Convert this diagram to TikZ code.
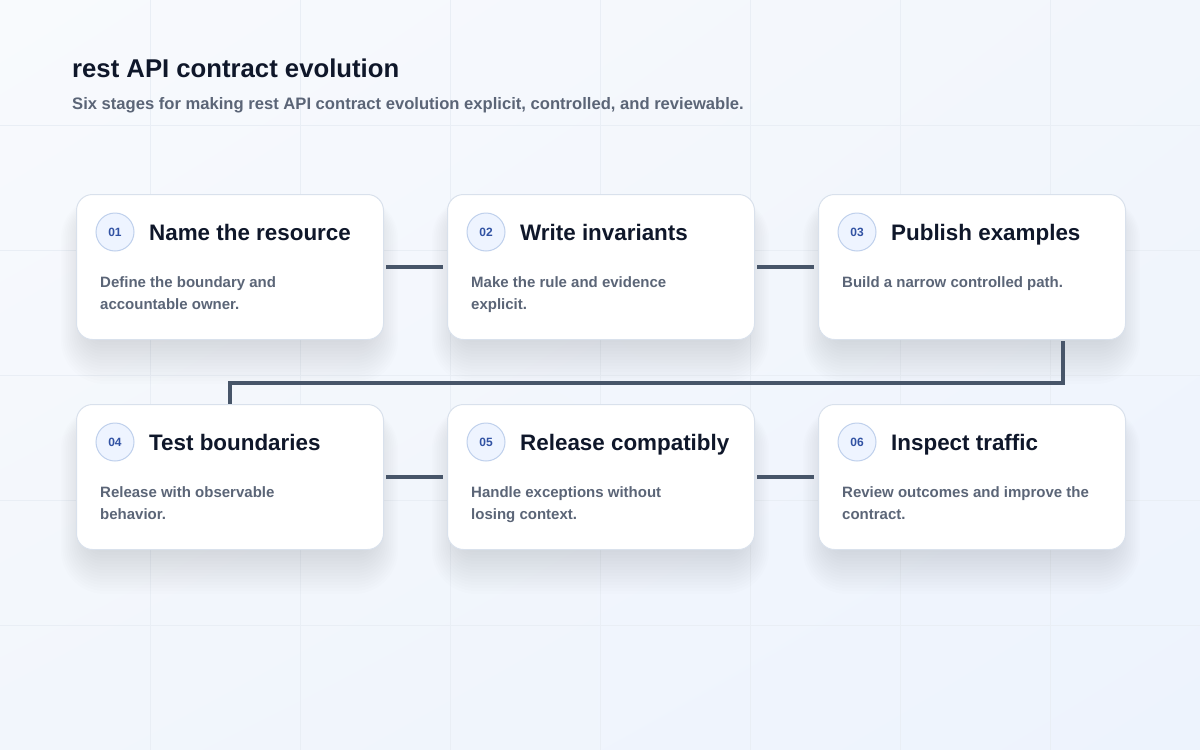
\documentclass[tikz,border=0pt]{standalone}
\usepackage{fontspec}
\setmainfont{Liberation Sans}
\usetikzlibrary{calc,shadings}
\definecolor{bgA}{HTML}{F8FAFD}
\definecolor{bgB}{HTML}{EDF3FD}
\definecolor{bgM}{HTML}{F2F6FC}
\definecolor{gridc}{HTML}{E9EEF5}
\definecolor{cardborder}{HTML}{D9E1EC}
\definecolor{shadowc}{HTML}{1E2A4A}
\definecolor{numfill}{HTML}{EEF4FF}
\definecolor{numborder}{HTML}{BFD0EC}
\definecolor{numtext}{HTML}{3152A3}
\definecolor{titlec}{HTML}{0F172A}
\definecolor{subc}{HTML}{5B6577}
\definecolor{linkc}{HTML}{475569}
\tikzset{
  card/.style={draw=cardborder, line width=1pt, fill=white, rounded corners=16pt,
    minimum width=307pt, minimum height=145pt, anchor=north west, inner sep=0pt},
  numbadge/.style={circle, draw=numborder, line width=1pt, fill=numfill, minimum size=38pt,
    inner sep=0pt, text=numtext, font=\fontsize{12}{14}\selectfont\bfseries},
  cardtitle/.style={anchor=base west, inner sep=0pt, text=titlec, font=\fontsize{22.4}{26}\selectfont\bfseries},
  carddesc/.style={anchor=base west, inner sep=0pt, text=subc, font=\fontsize{15}{22}\selectfont\bfseries},
  link/.style={draw=linkc, line width=3.5pt},
}
\newcommand{\mkcard}[7]{% name, x, y, num, title, desc line 1, desc line 2
  \foreach \s in {0,...,14} {
    \fill[shadowc, opacity=0.007, rounded corners={16pt+2pt*\s}]
      ($(#2,#3)+(10-1.8*\s,18-1.2*\s)$) rectangle ($(#2,#3)+(297+1.8*\s,148+3*\s)$);
  }
  \node[card] (#1) at (#2,#3) {};
  \node[numbadge] (#1n) at ($(#2,#3)+(39,38)$) {#4};
  \node[cardtitle] (#1t) at ($(#2,#3)+(73,46)$) {#5};
  \node[carddesc] (#1d) at ($(#2,#3)+(24,93)$) {\vtop{\baselineskip=22pt\hbox{#6}\hbox{#7}}};
}
\begin{document}
\begin{tikzpicture}[x=1pt,y=-1pt]
\useasboundingbox (0,0) rectangle (1200,750);
\shade[upper left=bgA, upper right=bgM, lower left=bgM, lower right=bgB] (0,0) rectangle (1200,750);
\foreach \gx in {150,300,...,1050} { \draw[gridc, line width=0.8pt] (\gx,0) -- (\gx,750); }
\foreach \gy in {125,250,...,625} { \draw[gridc, line width=0.8pt] (0,\gy) -- (1200,\gy); }
\node[anchor=base west, inner sep=0pt, text=titlec, font=\fontsize{25.7}{30}\selectfont\bfseries] (title) at (72,77) {rest API contract evolution};
\node[anchor=base west, inner sep=0pt, text=subc, font=\fontsize{16.6}{20}\selectfont\bfseries] (subtitle) at (72,109) {Six stages for making rest API contract evolution explicit, controlled, and reviewable.};

\mkcard{c1}{76}{194}{01}{Name the resource}{Define the boundary and}{accountable owner.}
\mkcard{c2}{447}{194}{02}{Write invariants}{Make the rule and evidence}{explicit.}
\mkcard{c3}{818}{194}{03}{Publish examples}{Build a narrow controlled path.}{}
\mkcard{c4}{76}{404}{04}{Test boundaries}{Release with observable}{behavior.}
\mkcard{c5}{447}{404}{05}{Release compatibly}{Handle exceptions without}{losing context.}
\mkcard{c6}{818}{404}{06}{Inspect traffic}{Review outcomes and improve the}{contract.}

\draw[link] ([xshift=2pt]c1.east) -- ([xshift=-4pt]c2.west);
\draw[link] ([xshift=2pt]c2.east) -- ([xshift=-4pt]c3.west);
\draw[link] ($(c3.south)+(91,1)$) -- ++(0,42) -| (c4.north);
\draw[link] ([xshift=2pt]c4.east) -- ([xshift=-4pt]c5.west);
\draw[link] ([xshift=2pt]c5.east) -- ([xshift=-4pt]c6.west);
\end{tikzpicture}
\end{document}
